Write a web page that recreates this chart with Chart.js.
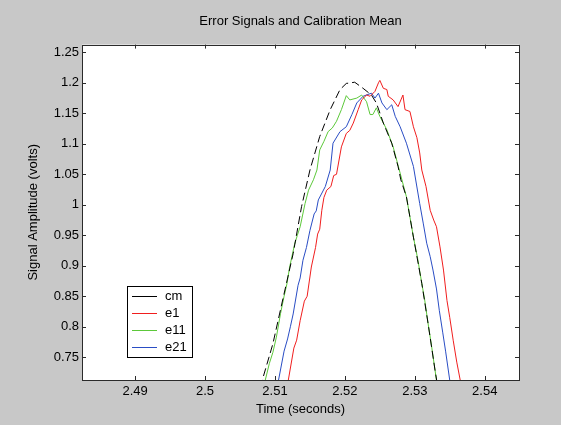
<!DOCTYPE html>
<html>
<head>
<meta charset="utf-8">
<script src="https://cdn.jsdelivr.net/npm/chart.js@4.4.1/dist/chart.umd.min.js"></script>
<style>
  html, body { margin: 0; padding: 0; background: #c8c8c8; }
  #wrap { width: 561px; height: 425px; }
</style>
</head>
<body>
<div id="wrap"><canvas id="errChart" width="561" height="425"></canvas></div>
<script>
// tick labels
var xTicks = [2.49, 2.50, 2.51, 2.52, 2.53, 2.54];
var yTicks = [0.75, 0.80, 0.85, 0.90, 0.95, 1.00, 1.05, 1.10, 1.15, 1.20, 1.25];

// series names
var seriesNames = ['cm', 'e1', 'e11', 'e21'];

// cm - calibration mean
var cmTime  = [2.5080, 2.5083, 2.5097, 2.5112, 2.5126, 2.5138, 2.5150, 2.5164, 2.5179, 2.5193, 2.5202, 2.5214, 2.5226, 2.5238, 2.5245, 2.5255, 2.5267, 2.5276, 2.5280, 2.5288, 2.5298, 2.5310, 2.5319, 2.5329, 2.5333];
var cmVolts = [0.700, 0.717, 0.772, 0.849, 0.920, 0.997, 1.057, 1.112, 1.156, 1.189, 1.199, 1.201, 1.191, 1.180, 1.167, 1.134, 1.101, 1.063, 1.041, 1.013, 0.947, 0.871, 0.805, 0.728, 0.700];

// e1
var e1Time  = [2.5115, 2.5119, 2.5127, 2.5131, 2.5136, 2.5142, 2.5146, 2.5152, 2.5158, 2.5161, 2.5164, 2.5167, 2.5170, 2.5174, 2.5180, 2.5184, 2.5188, 2.5195, 2.5202, 2.5207, 2.5212, 2.5219, 2.5224, 2.5231, 2.5236, 2.5243, 2.5248, 2.5250, 2.5255, 2.5260, 2.5262, 2.5269, 2.5276, 2.5283, 2.5286, 2.5293, 2.5298, 2.5303, 2.5307, 2.5310, 2.5316, 2.5322, 2.5327, 2.5331, 2.5336, 2.5341, 2.5346, 2.5350, 2.5355, 2.5360, 2.5365, 2.5368];
var e1Volts = [0.700, 0.712, 0.765, 0.778, 0.810, 0.842, 0.850, 0.898, 0.930, 0.952, 0.960, 0.991, 1.012, 1.024, 1.030, 1.048, 1.050, 1.095, 1.117, 1.122, 1.134, 1.156, 1.172, 1.180, 1.178, 1.186, 1.200, 1.204, 1.191, 1.189, 1.178, 1.172, 1.161, 1.180, 1.156, 1.153, 1.128, 1.110, 1.085, 1.057, 1.030, 0.991, 0.975, 0.964, 0.931, 0.893, 0.843, 0.815, 0.777, 0.742, 0.712, 0.700];

// e11
var e11Time  = [2.5080, 2.5086, 2.5092, 2.5097, 2.5102, 2.5108, 2.5113, 2.5117, 2.5121, 2.5128, 2.5132, 2.5136, 2.5143, 2.5148, 2.5155, 2.5160, 2.5164, 2.5170, 2.5176, 2.5182, 2.5188, 2.5195, 2.5202, 2.5207, 2.5217, 2.5224, 2.5231, 2.5236, 2.5240, 2.5245, 2.5250, 2.5260, 2.5269, 2.5279, 2.5288, 2.5298, 2.5304, 2.5310, 2.5314, 2.5319, 2.5324, 2.5329, 2.5331, 2.5334];
var e11Volts = [0.700, 0.712, 0.740, 0.758, 0.783, 0.822, 0.850, 0.870, 0.898, 0.935, 0.950, 0.964, 1.002, 1.024, 1.041, 1.057, 1.090, 1.104, 1.120, 1.126, 1.137, 1.156, 1.179, 1.172, 1.175, 1.180, 1.169, 1.148, 1.148, 1.159, 1.145, 1.123, 1.095, 1.052, 1.013, 0.947, 0.912, 0.871, 0.845, 0.805, 0.768, 0.728, 0.712, 0.700];

// e21
var e21Time  = [2.5100, 2.5105, 2.5113, 2.5118, 2.5122, 2.5126, 2.5133, 2.5136, 2.5140, 2.5145, 2.5150, 2.5156, 2.5159, 2.5162, 2.5172, 2.5179, 2.5183, 2.5193, 2.5202, 2.5210, 2.5217, 2.5226, 2.5238, 2.5243, 2.5248, 2.5253, 2.5260, 2.5267, 2.5272, 2.5279, 2.5288, 2.5298, 2.5307, 2.5312, 2.5317, 2.5322, 2.5326, 2.5331, 2.5335, 2.5340, 2.5344, 2.5350, 2.5352];
var e21Volts = [0.700, 0.712, 0.760, 0.780, 0.800, 0.821, 0.868, 0.880, 0.909, 0.930, 0.958, 0.985, 0.990, 1.008, 1.030, 1.057, 1.101, 1.120, 1.128, 1.148, 1.167, 1.178, 1.183, 1.175, 1.183, 1.167, 1.156, 1.164, 1.145, 1.128, 1.101, 1.063, 1.002, 0.970, 0.937, 0.915, 0.893, 0.862, 0.827, 0.790, 0.760, 0.712, 0.700];

function toPoints(ts, vs) {
    return ts.map(function (t, i) { return { x: t, y: vs[i] }; });
}

var lineColors = ['#000000', '#f01e1e', '#5cc83a', '#2a4dc4'];

var frameAndLegend = {
    id: 'frameAndLegend',
    afterDraw: function (chart) {
        var c = chart.ctx, a = chart.chartArea;
        var xs = chart.scales.x, ys = chart.scales.y;
        c.save();
        c.strokeStyle = '#2b2b2b';
        c.lineWidth = 1;
        c.beginPath();
        xs.ticks.forEach(function (t) {
            var px = Math.round(xs.getPixelForValue(t.value)) + 0.5;
            c.moveTo(px, a.bottom); c.lineTo(px, a.bottom - 4);
            c.moveTo(px, a.top); c.lineTo(px, a.top + 4);
        });
        ys.ticks.forEach(function (t) {
            var py = Math.round(ys.getPixelForValue(t.value)) + 0.5;
            c.moveTo(a.left, py); c.lineTo(a.left + 4, py);
            c.moveTo(a.right, py); c.lineTo(a.right - 4, py);
        });
        c.stroke();
        c.strokeRect(Math.round(a.left) + 0.5, Math.round(a.top) + 0.5,
                     Math.round(a.right - a.left), Math.round(a.bottom - a.top));

        // legend box
        var bx = 127.5, by = 286.5, bw = 65, bh = 71;
        c.fillStyle = '#ffffff';
        c.fillRect(bx, by, bw, bh);
        c.strokeStyle = '#000000';
        c.strokeRect(bx, by, bw, bh);
        c.font = '13px "Liberation Sans", Arial, sans-serif';
        c.textBaseline = 'middle';
        chart.data.datasets.forEach(function (ds, i) {
            var ly = Math.round(296 + i * 16.9) + 0.5;
            c.strokeStyle = ds.borderColor;
            c.beginPath();
            c.moveTo(132, ly); c.lineTo(157, ly);
            c.stroke();
            c.fillStyle = '#000000';
            c.fillText(ds.label, 165, ly);
        });
        c.restore();
    }
};

var ctx = document.getElementById('errChart').getContext('2d');
var errChart = new Chart(ctx, {
    type: 'line',
    data: {
        datasets: [{
            label: seriesNames[0],
            data: toPoints(cmTime, cmVolts),
            borderColor: lineColors[0],
            borderDash: [8, 4],
            borderWidth: 1
        }, {
            label: seriesNames[1],
            data: toPoints(e1Time, e1Volts),
            borderColor: lineColors[1],
            borderWidth: 1
        }, {
            label: seriesNames[2],
            data: toPoints(e11Time, e11Volts),
            borderColor: lineColors[2],
            borderWidth: 1
        }, {
            label: seriesNames[3],
            data: toPoints(e21Time, e21Volts),
            borderColor: lineColors[3],
            borderWidth: 1
        }]
    },
    options: {
        responsive: false,
        animation: false,
        devicePixelRatio: 1,
        clip: 0,
        elements: {
            point: { radius: 0 },
            line: { tension: 0 }
        },
        layout: {
            padding: { left: 0, right: 42, top: 0, bottom: 0 }
        },
        plugins: {
            legend: { display: false },
            tooltip: { enabled: false },
            title: {
                display: true,
                fullSize: false,
                text: 'Error Signals and Calibration Mean',
                color: '#000',
                font: { family: 'Liberation Sans', size: 13, weight: 'normal' },
                padding: { top: 14, bottom: 15 }
            }
        },
        scales: {
            x: {
                type: 'linear',
                min: 2.4824,
                max: 2.5449,
                afterBuildTicks: function (s) { s.ticks = xTicks.map(function (v) { return { value: v }; }); },
                afterFit: function (s) { s.height = 45; },
                grid: { display: false, drawTicks: false },
                border: { display: false },
                ticks: {
                    padding: 4,
                    maxRotation: 0,
                    color: '#000',
                    font: { family: 'Liberation Sans', size: 13 },
                    callback: function (v) { return String(+v.toFixed(3)); }
                },
                title: {
                    display: true,
                    text: 'Time (seconds)',
                    color: '#000',
                    font: { family: 'Liberation Sans', size: 13 },
                    padding: { top: 0, bottom: 8 }
                }
            },
            y: {
                type: 'linear',
                min: 0.7127,
                max: 1.2627,
                afterBuildTicks: function (s) { s.ticks = yTicks.map(function (v) { return { value: v }; }); },
                afterFit: function (s) { s.width = 82; },
                grid: { display: false, drawTicks: false },
                border: { display: false },
                ticks: {
                    padding: 3,
                    color: '#000',
                    font: { family: 'Liberation Sans', size: 13 },
                    callback: function (v) { return String(+v.toFixed(3)); }
                },
                title: {
                    display: true,
                    text: 'Signal Amplitude (volts)',
                    color: '#000',
                    font: { family: 'Liberation Sans', size: 13 },
                    padding: { top: 26, bottom: 0 }
                }
            }
        }
    },
    plugins: [{
        id: 'plotBg',
        beforeDraw: function (chart) {
            var c = chart.ctx, a = chart.chartArea;
            c.save();
            c.fillStyle = '#c8c8c8';
            c.fillRect(0, 0, chart.width, chart.height);
            c.fillStyle = '#ffffff';
            c.fillRect(a.left, a.top, a.right - a.left, a.bottom - a.top);
            c.restore();
        }
    }, frameAndLegend]
});
</script>
</body>
</html>
